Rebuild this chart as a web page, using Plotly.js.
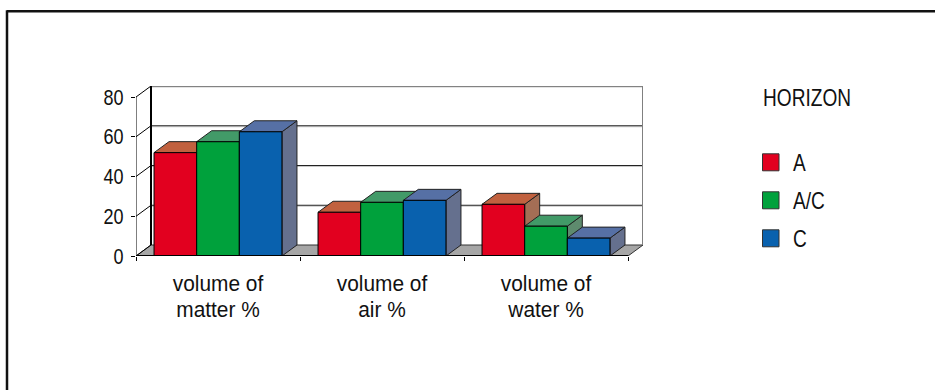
<!DOCTYPE html>
<html>
<head>
<meta charset="utf-8">
<script src="https://cdn.plot.ly/plotly-3.0.1.min.js"></script>
<style>html,body{margin:0;padding:0;background:#fff}#chart{width:935px;height:390px}</style>
</head>
<body>
<div id="chart"></div>
<script>
// Soil properties by horizon, drawn as pseudo-3D clustered columns.
const categories = ['volume of<br>matter %', 'volume of<br>air %', 'volume of<br>water %'];
const seriesNames = ['A', 'A/C', 'C'];
const valuesA = [52, 22, 26];
const valuesAC = [57.5, 27, 15];
const valuesC = [62.5, 28, 9];
const seriesValues = [valuesA, valuesAC, valuesC];
const yTicks = [0, 20, 40, 60, 80];

const frontColors = ['#e2001f', '#00a13c', '#0961ae'];
const topColors = ['#c1613f', '#429a68', '#5670a5'];
const sideColors = ['#a46e55', '#5e8b6e', '#65708e'];

const FONT = '"Liberation Sans", Arial, sans-serif';
const BAR_GAP = 0.22;
// Receding depth of the box, in axis units.
const DEPTH_X = 15 / 164;
const DEPTH_Y = 11 / 1.9875;
const X_MIN = -0.5;
const X_MAX = categories.length - 0.5;
const Y_MAX = yTicks[yTicks.length - 1];

const poly = pts => 'M' + pts.map(p => p[0] + ',' + p[1]).join('L') + 'Z';
const shapes = [];
const addData = (pts, fill, w, color, layer) => shapes.push({
  type: 'path', xref: 'x', yref: 'y', path: poly(pts), fillcolor: fill,
  line: {width: w, color: color || '#000'}, layer: layer || 'below'
});
const addLine = (x0, y0, x1, y1, w, color, layer) => shapes.push({
  type: 'line', xref: 'x', yref: 'y', x0, y0, x1, y1,
  line: {width: w, color: color || '#000'}, layer: layer || 'below'
});

// Floor and back wall of the box.
addData([[X_MIN, 0], [X_MIN + DEPTH_X, DEPTH_Y], [X_MAX + DEPTH_X, DEPTH_Y], [X_MAX, 0]], '#a6a6a6', 1, '#333');
yTicks.slice(1).forEach(v => {
  addLine(X_MIN + DEPTH_X, v + DEPTH_Y - 0.5, X_MAX + DEPTH_X, v + DEPTH_Y - 0.5, 1, '#c8c8c8');
  addLine(X_MIN + DEPTH_X, v + DEPTH_Y, X_MAX + DEPTH_X, v + DEPTH_Y, 1, '#222');
});
yTicks.forEach(v => addLine(X_MIN, v, X_MIN + DEPTH_X, v + DEPTH_Y, 1));
addLine(X_MIN, 0, X_MIN, Y_MAX, 1);
addLine(X_MIN + DEPTH_X, DEPTH_Y, X_MIN + DEPTH_X, Y_MAX + DEPTH_Y, 2);
addLine(X_MAX + DEPTH_X, DEPTH_Y, X_MAX + DEPTH_X, Y_MAX + DEPTH_Y, 2, '#808080');

// Top and side faces of each column; the bar traces sit above these.
const barWidth = (1 - BAR_GAP) / seriesValues.length;
categories.forEach((_, c) => {
  seriesValues.forEach((vals, s) => {
    const x0 = c - (1 - BAR_GAP) / 2 + s * barWidth;
    const x1 = x0 + barWidth;
    const v = vals[c];
    addData([[x1, 0], [x1 + DEPTH_X, DEPTH_Y], [x1 + DEPTH_X, v + DEPTH_Y], [x1, v]], sideColors[s], 1, '#222');
    addData([[x0, v], [x0 + DEPTH_X, v + DEPTH_Y], [x1 + DEPTH_X, v + DEPTH_Y], [x1, v]], topColors[s], 1, '#222');
  });
});

// Front edge of the floor.
addLine(X_MIN, 0, X_MAX, 0, 2, '#000', 'above');

// Outer rule along the top and left of the figure.
const W = 935, H = 390, ML = 136, MR = 292, MT = 85.7, MB = 134.3;
const px = x => (x - ML) / (W - ML - MR);
const py = y => 1 - (y - MT) / (H - MT - MB);
const rule = (x0, y0, x1, y1) => shapes.push({
  type: 'line', xref: 'paper', yref: 'paper', x0: px(x0), y0: py(y0), x1: px(x1), y1: py(y1),
  line: {width: 2.5, color: '#111'}
});
rule(7, 11, 935, 11);
rule(7, 10, 7, 390);

// Key at the right of the plot.
const annotations = [{
  xref: 'paper', yref: 'paper', x: px(761), y: py(98), xanchor: 'left', yanchor: 'middle',
  text: 'HORIZON', showarrow: false, font: {family: FONT, size: 23, color: '#111'}
}];
seriesNames.forEach((name, s) => {
  const cy = 162 + s * 38;
  shapes.push({
    type: 'rect', xref: 'paper', yref: 'paper', x0: px(762.5), x1: px(779), y0: py(cy - 8.5), y1: py(cy + 8.5),
    fillcolor: frontColors[s], line: {width: 1, color: '#333'}
  });
  annotations.push({
    xref: 'paper', yref: 'paper', x: px(791), y: py(cy + 1), xanchor: 'left', yanchor: 'middle',
    text: name, showarrow: false, font: {family: FONT, size: 23, color: '#111'}
  });
});

const traces = seriesValues.map((vals, s) => ({
  type: 'bar', name: seriesNames[s], x: categories, y: vals,
  marker: {color: frontColors[s], line: {color: '#000', width: 1}}
}));

// Narrow the labels horizontally about a chosen edge of each text box,
// since no condensed face of this family is installed.
function squeeze(selector, scale, anchor, lineStep) {
  document.querySelectorAll(selector).forEach(el => {
    if (lineStep) {
      el.querySelectorAll('tspan.line').forEach((t, i) => {
        if (i) t.setAttribute('dy', lineStep + 'px');
      });
    }
    const b = el.getBBox();
    const ax = b.x + anchor * b.width;
    const old = el.getAttribute('transform') || '';
    el.setAttribute('transform', `${old} translate(${ax},0) scale(${scale},1) translate(${-ax},0)`);
  });
}

Plotly.newPlot('chart', traces, {
  width: W, height: H, showlegend: false,
  paper_bgcolor: '#fff', plot_bgcolor: 'rgba(0,0,0,0)',
  margin: {l: ML, r: MR, t: MT, b: MB, pad: 0},
  barmode: 'group', bargap: BAR_GAP, bargroupgap: 0,
  font: {family: FONT, color: '#111'},
  xaxis: {
    type: 'category', range: [X_MIN, X_MAX + DEPTH_X], tickson: 'boundaries',
    ticks: 'outside', ticklen: 4, tickwidth: 1, tickcolor: '#000',
    showgrid: false, zeroline: false, showline: false,
    ticklabelstandoff: 12,
    tickfont: {family: FONT, size: 22, color: '#111'}
  },
  yaxis: {
    range: [0, Y_MAX + DEPTH_Y], tickvals: yTicks, ticktext: yTicks.map(String),
    ticks: 'outside', ticklen: 4, tickwidth: 1, tickcolor: '#000',
    showgrid: false, zeroline: false, showline: false,
    ticklabelstandoff: 3,
    tickfont: {family: FONT, size: 22, color: '#111'}
  },
  shapes, annotations
}, {staticPlot: true, displayModeBar: false}).then(() => {
  squeeze('.xtick text', 0.95, 0.5, 25.7);
  squeeze('.ytick text', 0.82, 1);
  squeeze('.annotation-text', 0.83, 0);
});
</script>
</body>
</html>
